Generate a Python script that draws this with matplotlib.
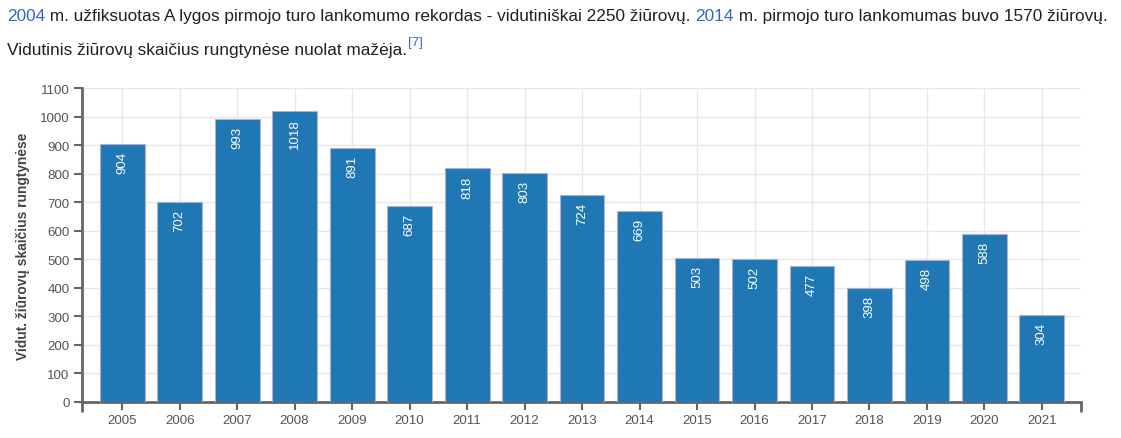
import matplotlib.pyplot as plt
from matplotlib.ticker import FixedLocator

plt.rcParams['font.family'] = ['Liberation Sans', 'DejaVu Sans']

# Data
years = ['2005', '2006', '2007', '2008', '2009', '2010', '2011', '2012', '2013',
         '2014', '2015', '2016', '2017', '2018', '2019', '2020', '2021']
attendance = [904, 702, 993, 1018, 891, 687, 818, 803, 724,
              669, 503, 502, 477, 398, 498, 588, 304]
y_ticks = list(range(0, 1101, 100))

line1 = [("2004", '#3366cc'),
         (" m. užfiksuotas A lygos pirmojo turo lankomumo rekordas - vidutiniškai 2250 žiūrovų. ", '#202122'),
         ("2014", '#3366cc'),
         (" m. pirmojo turo lankomumas buvo 1570 žiūrovų.", '#202122')]
line2 = [("Vidutinis žiūrovų skaičius rungtynėse nuolat mažėja.", '#202122')]
ref_note = "[7]"
ylabel = "Vidut. žiūrovų skaičius rungtynėse"

W, H = 1121, 439
fig = plt.figure(figsize=(W / 100, H / 100), dpi=100)
ax = fig.add_axes([82 / W, 1 - 403 / H, (1081 - 82) / W, (403 - 89) / H])

x = range(len(years))
bars = ax.bar(x, attendance, width=0.78, color='#1f77b4', edgecolor='#b4b0cc',
              linewidth=0.8, zorder=3)

for xi, v in zip(x, attendance):
    ax.annotate(str(v), (xi, v), xytext=(0, -5), textcoords='offset points',
                rotation=90, ha='center', va='top', color='white', fontsize=9.5,
                zorder=4)

ax.set_xlim(-0.7, len(years) - 1 + 0.68)
ax.set_ylim(0, 1100)
ax.set_xticks(list(x))
ax.set_xticklabels(years)
ax.set_yticks(y_ticks)
ax.xaxis.set_minor_locator(FixedLocator(list(ax.get_xlim())))

ax.grid(True, color='#e8e8e8', linewidth=1, zorder=0)
ax.set_axisbelow(True)

for side in ['top', 'right']:
    ax.spines[side].set_visible(False)
for side in ['left', 'bottom']:
    ax.spines[side].set_color('#666666')
    ax.spines[side].set_linewidth(2)

ax.tick_params(axis='both', which='major', direction='out', length=6, width=1.5,
               color='#666666', labelcolor='#555555', labelsize=9.6, pad=3)
ax.tick_params(axis='x', which='minor', direction='out', length=7, width=2,
               color='#666666')

ax.set_ylabel(ylabel, fontsize=9.9, fontweight='bold', color='#444444')
ax.yaxis.set_label_coords(-52 / (1081 - 82), 0.5)

# Header text drawn piece by piece
fig.canvas.draw()
renderer = fig.canvas.get_renderer()


def write_line(pieces, x0, y0, size=12.45):
    xpos = x0
    for txt, col in pieces:
        t = fig.text(xpos / W, 1 - y0 / H, txt, color=col, fontsize=size,
                     ha='left', va='baseline')
        bb = t.get_window_extent(renderer)
        xpos += bb.width
    return xpos


write_line(line1, 7, 21)
end2 = write_line(line2, 7, 55)
fig.text((end2 + 1) / W, 1 - 46 / H, ref_note, color='#3366cc', fontsize=9.5,
         ha='left', va='baseline')

fig.savefig('out.png', dpi=100)
